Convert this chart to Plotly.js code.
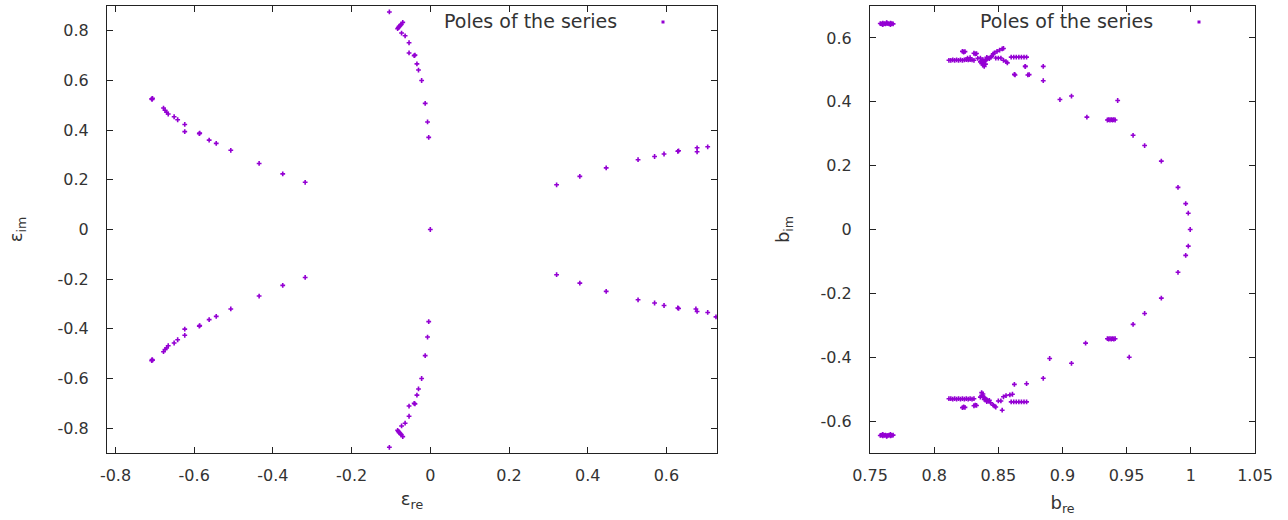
<!DOCTYPE html>
<html>
<head>
<meta charset="utf-8">
<script src="https://cdn.plot.ly/plotly-3.0.1.min.js"></script>
<style>html,body{margin:0;padding:0;background:#fff;}#chart{width:1288px;height:520px;}</style>
</head>
<body>
<div id="chart"></div>
<script>
// ---- Left panel: poles in the epsilon plane ----
const epsRe = [
  // left arm, upper
  -0.708,-0.706,-0.707,-0.678,-0.674,-0.670,-0.666,-0.651,-0.642,-0.624,-0.624,-0.587,-0.586,-0.562,-0.544,-0.507,-0.435,-0.375,-0.318,
  // left arm, lower
  -0.708,-0.706,-0.707,-0.678,-0.674,-0.670,-0.666,-0.651,-0.642,-0.624,-0.624,-0.587,-0.586,-0.562,-0.544,-0.507,-0.435,-0.375,-0.318,
  // vertical arm, upper
  -0.104,-0.083,-0.081,-0.079,-0.076,-0.074,-0.070,-0.073,-0.064,-0.054,-0.054,-0.041,-0.039,-0.034,-0.030,-0.022,-0.013,-0.007,-0.004,
  // vertical arm, lower
  -0.104,-0.083,-0.081,-0.079,-0.076,-0.074,-0.070,-0.073,-0.064,-0.054,-0.054,-0.041,-0.039,-0.034,-0.030,-0.022,-0.013,-0.007,-0.004,
  // origin
  0.000,
  // right arm, upper
  0.321,0.380,0.447,0.528,0.570,0.594,0.629,0.631,0.678,0.678,0.705,
  // right arm, lower
  0.321,0.380,0.447,0.528,0.570,0.594,0.629,0.631,0.675,0.678,0.705,0.726
];
const epsIm = [
  0.526,0.528,0.524,0.489,0.480,0.472,0.465,0.454,0.442,0.423,0.394,0.386,0.388,0.360,0.347,0.319,0.266,0.224,0.190,
  -0.528,-0.526,-0.524,-0.492,-0.483,-0.477,-0.468,-0.457,-0.444,-0.426,-0.401,-0.389,-0.387,-0.363,-0.350,-0.320,-0.268,-0.225,-0.193,
  0.876,0.809,0.813,0.818,0.822,0.826,0.834,0.791,0.780,0.752,0.711,0.700,0.702,0.667,0.642,0.600,0.508,0.433,0.371,
  -0.877,-0.809,-0.813,-0.818,-0.822,-0.826,-0.834,-0.791,-0.780,-0.752,-0.711,-0.700,-0.702,-0.667,-0.642,-0.600,-0.508,-0.433,-0.371,
  0.000,
  0.180,0.214,0.248,0.281,0.294,0.304,0.315,0.317,0.329,0.313,0.333,
  -0.182,-0.216,-0.249,-0.283,-0.296,-0.306,-0.316,-0.318,-0.320,-0.330,-0.334,-0.352
];

// ---- Right panel: poles in the b plane ----
const bRe = [
  // top-left cluster
  0.758,0.759,0.760,0.761,0.762,0.763,0.764,0.765,0.766,0.767,0.768,0.760,0.763,0.766,
  // upper cluster
  0.8115,0.813,0.8145,0.816,0.8175,0.819,0.8205,0.822,0.8235,0.825,0.8265,0.828,0.8295,0.831,
  0.822,0.823,0.824,0.831,0.832,0.833,0.826,0.828,0.834,0.836,
  0.836,0.837,0.838,0.839,0.840,0.841,0.842,0.843,0.838,0.839,0.840,0.837,0.838,0.841,0.844,0.845,
  0.846,0.847,0.849,0.851,0.853,0.854,0.848,0.850,0.852,0.854,0.856,0.857,
  0.860,0.862,0.864,0.866,0.868,0.870,0.872,0.871,0.8625,0.863,0.873,0.874,
  // upper arc
  0.871,0.885,0.885,0.898,0.907,0.919,0.943,0.935,0.936,0.937,0.938,0.939,0.940,0.941,0.955,0.964,0.977,0.990,0.996,0.998,0.9995,
  // lower arc
  0.998,0.996,0.990,0.977,0.964,0.955,0.935,0.936,0.937,0.938,0.939,0.940,0.941,0.918,0.952,0.890,0.907,0.885,
  // lower cluster
  0.8115,0.813,0.8145,0.816,0.8175,0.819,0.8205,0.822,0.8235,0.825,0.8265,0.828,0.8295,0.831,
  0.822,0.823,0.824,0.831,0.832,0.833,
  0.836,0.837,0.838,0.839,0.840,0.841,0.842,0.843,0.838,0.837,0.839,0.841,0.844,
  0.846,0.847,0.848,0.850,0.852,0.853,0.854,0.856,0.859,0.861,
  0.860,0.862,0.864,0.866,0.868,0.870,0.872,0.8625,0.872,
  // bottom-left cluster
  0.758,0.759,0.760,0.761,0.762,0.763,0.764,0.765,0.766,0.767,0.768,0.760,0.763,0.766
];
const bIm = [
  0.645,0.644,0.646,0.645,0.644,0.646,0.645,0.644,0.646,0.645,0.644,0.642,0.648,0.642,
  0.530,0.530,0.531,0.530,0.531,0.530,0.531,0.530,0.531,0.532,0.531,0.532,0.531,0.530,
  0.558,0.556,0.557,0.552,0.550,0.551,0.537,0.538,0.536,0.537,
  0.525,0.528,0.522,0.526,0.530,0.533,0.537,0.535,0.515,0.511,0.518,0.520,0.532,0.539,0.540,0.543,
  0.550,0.553,0.558,0.562,0.566,0.567,0.537,0.537,0.537,0.530,0.526,0.522,
  0.540,0.540,0.540,0.540,0.540,0.540,0.540,0.511,0.486,0.484,0.484,0.485,
  0.511,0.511,0.466,0.407,0.418,0.352,0.404,0.343,0.344,0.343,0.344,0.343,0.344,0.343,0.295,0.263,0.214,0.132,0.081,0.051,0.000,
  -0.052,-0.081,-0.134,-0.215,-0.263,-0.297,-0.342,-0.343,-0.342,-0.343,-0.342,-0.343,-0.342,-0.356,-0.400,-0.404,-0.419,-0.466,
  -0.530,-0.530,-0.531,-0.530,-0.531,-0.530,-0.531,-0.530,-0.531,-0.530,-0.531,-0.530,-0.531,-0.530,
  -0.558,-0.556,-0.557,-0.552,-0.550,-0.551,
  -0.525,-0.511,-0.522,-0.527,-0.530,-0.533,-0.537,-0.535,-0.515,-0.520,-0.532,-0.539,-0.543,
  -0.550,-0.553,-0.556,-0.537,-0.537,-0.566,-0.524,-0.520,-0.518,-0.516,
  -0.540,-0.540,-0.540,-0.540,-0.540,-0.540,-0.540,-0.485,-0.483,
  -0.645,-0.644,-0.646,-0.645,-0.644,-0.646,-0.645,-0.644,-0.646,-0.645,-0.644,-0.642,-0.648,-0.642
];

// ---- ticks ----
const epsReTicks = [-0.8,-0.6,-0.4,-0.2,0,0.2,0.4,0.6];
const epsReTickText = ["-0.8","-0.6","-0.4","-0.2","0","0.2","0.4","0.6"];
const epsImTicks = [-0.8,-0.6,-0.4,-0.2,0,0.2,0.4,0.6,0.8];
const epsImTickText = ["-0.8","-0.6","-0.4","-0.2","0","0.2","0.4","0.6","0.8"];
const bReTicks = [0.75,0.8,0.85,0.9,0.95,1,1.05];
const bReTickText = ["0.75","0.8","0.85","0.9","0.95","1","1.05"];
const bImTicks = [-0.6,-0.4,-0.2,0,0.2,0.4,0.6];
const bImTickText = ["-0.6","-0.4","-0.2","0","0.2","0.4","0.6"];

const seriesName = "Poles of the series";
const purple = "#9400d3";
const font = "DejaVu Sans";
const W = 1288, H = 520;

const marker = {symbol:"cross", size:4, color:purple, line:{width:0}};

const traces = [
  {type:"scatter", mode:"markers", x:epsRe, y:epsIm, xaxis:"x", yaxis:"y", marker:marker, name:seriesName, showlegend:false, cliponaxis:true},
  {type:"scatter", mode:"markers", x:bRe, y:bIm, xaxis:"x2", yaxis:"y2", marker:marker, name:seriesName, showlegend:false, cliponaxis:true}
];

const axBase = {
  showgrid:false, zeroline:false, showline:true, linecolor:"#222", linewidth:1,
  mirror:"allticks", ticks:"inside", ticklen:6, tickwidth:1, tickcolor:"#222",
  tickfont:{family:font, size:16, color:"#333"}, tickmode:"array"
};

const yTop = 6, yBot = 453;
const yDom = [1 - yBot/H, 1 - yTop/H];
const titleFont = {family:font, size:18, color:"#333"};

const layout = {
  width:W, height:H,
  margin:{l:0, r:0, t:0, b:0},
  paper_bgcolor:"#fff", plot_bgcolor:"#fff",
  showlegend:false,
  font:{family:font, color:"#333"},
  xaxis:Object.assign({}, axBase, {
    domain:[107/W, 717/W], range:[-0.8216, 0.7286],
    tickvals:epsReTicks, ticktext:epsReTickText, ticklabelstandoff:8,
    title:{text:"ε<sub>re</sub>", font:titleFont, standoff:8}
  }),
  yaxis:Object.assign({}, axBase, {
    domain:yDom, range:[-0.9, 0.9],
    tickvals:epsImTicks, ticktext:epsImTickText, ticklabelstandoff:14,
    title:{text:"ε<sub>im</sub>", font:titleFont, standoff:30}
  }),
  xaxis2:Object.assign({}, axBase, {
    domain:[870/W, 1255/W], range:[0.75, 1.05], anchor:"y2",
    tickvals:bReTicks, ticktext:bReTickText, ticklabelstandoff:8,
    title:{text:"b<sub>re</sub>", font:titleFont, standoff:12}
  }),
  yaxis2:Object.assign({}, axBase, {
    domain:yDom, range:[-0.7, 0.7], anchor:"x2",
    tickvals:bImTicks, ticktext:bImTickText, ticklabelstandoff:14,
    title:{text:"b<sub>im</sub>", font:titleFont, standoff:26}
  }),
  annotations:[
    {xref:"paper", yref:"paper", x:619/W, y:1-21/H, xanchor:"right", yanchor:"middle", showarrow:false,
     text:seriesName, font:{family:font, size:19, color:"#333"}},
    {xref:"paper", yref:"paper", x:1155/W, y:1-21/H, xanchor:"right", yanchor:"middle", showarrow:false,
     text:seriesName, font:{family:font, size:19, color:"#333"}}
  ],
  shapes:[
    {type:"rect", xref:"paper", yref:"paper", x0:661.5/W, x1:664.5/W, y0:1-23.5/H, y1:1-20.5/H, fillcolor:purple, line:{width:0}},
    {type:"rect", xref:"paper", yref:"paper", x0:1197.5/W, x1:1200.5/W, y0:1-23.5/H, y1:1-20.5/H, fillcolor:purple, line:{width:0}}
  ]
};

Plotly.newPlot("chart", traces, layout, {staticPlot:true, displayModeBar:false});
</script>
</body>
</html>
